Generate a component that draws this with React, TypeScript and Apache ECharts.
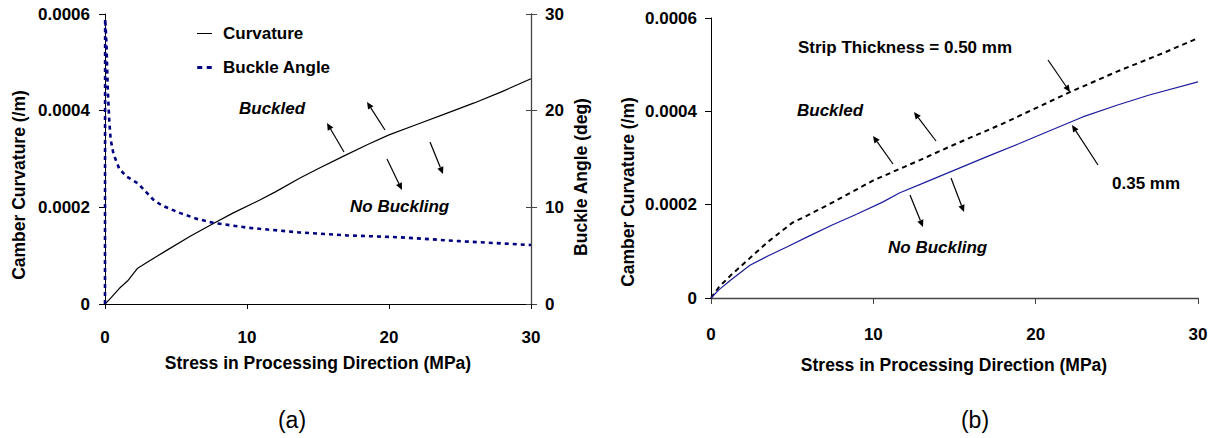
import React, { useEffect, useRef } from "react";
import * as echarts from "echarts";

// ---------- data ----------
// (a) curvature vs stress
const curvStress = [0, 0.4, 1, 1.6, 2.3, 3, 4.4, 6, 7.6, 9, 10.9, 12, 13.7, 15, 16.8, 18.5, 20, 22, 24, 26, 28, 30];
const curvValues = [0, 0.000012, 0.000032, 0.000048, 0.000074, 0.000087, 0.000112, 0.00014, 0.000166, 0.000188, 0.000215, 0.000232, 0.00026, 0.00028, 0.000306, 0.00033, 0.00035, 0.000372, 0.000394, 0.000416, 0.00044, 0.000466];
// (a) buckle angle vs stress
const angleStress = [0, 0.01, 0.05, 0.1, 0.2, 0.3, 0.4, 0.6, 1, 1.5, 2.3, 2.5, 3.4, 4, 5.3, 6.5, 7.6, 10, 13.7, 17, 20.8, 25, 30];
const angleValues = [0, 29.5, 28.5, 27, 22, 19, 17, 15.5, 14, 13.2, 12.5, 12.2, 10.8, 10.2, 9.4, 8.8, 8.4, 7.9, 7.4, 7.1, 6.9, 6.5, 6.1];
// (b) 0.50 mm strip
const thickStress = [0, 0.5, 1.2, 2.4, 3.5, 5, 6, 7.5, 10, 12.9, 15, 18, 22.1, 25, 28, 30];
const thickValues = [0, 0.000024, 0.000048, 0.0000857, 0.00012, 0.000161, 0.000178, 0.000205, 0.000252, 0.000296, 0.000329, 0.000374, 0.000441, 0.000485, 0.000527, 0.000557];
// (b) 0.35 mm strip
const thinStress = [0, 0.5, 1.2, 2.4, 3.5, 4.7, 6, 7.5, 9, 10.6, 11.6, 13, 15, 17, 19, 20.5, 22.9, 25, 27, 30];
const thinValues = [0, 0.000018, 0.000038, 0.00007, 0.00009, 0.00011, 0.000132, 0.000157, 0.00018, 0.000206, 0.000225, 0.000245, 0.000274, 0.000303, 0.000331, 0.000353, 0.000388, 0.000413, 0.000435, 0.000463];

const xTicks = { min: 0, max: 30, interval: 10 };
const curvTicks = { min: 0, max: 0.0006, interval: 0.0002 };
const angleTicks = { min: 0, max: 30, interval: 10 };

const FONT = "'Liberation Sans', Arial, sans-serif";

function zip(xs: number[], ys: number[]) {
  return xs.map((x, i) => [x, ys[i]]);
}

function arrow(x1: number, y1: number, x2: number, y2: number) {
  const dx = x2 - x1;
  const dy = y2 - y1;
  const len = Math.sqrt(dx * dx + dy * dy);
  const ux = dx / len;
  const uy = dy / len;
  const hl = 7;
  const hw = 3.2;
  const bx = x2 - ux * hl;
  const by = y2 - uy * hl;
  const nx = -uy;
  const ny = ux;
  return [
    { type: "line", shape: { x1, y1, x2: bx, y2: by }, style: { stroke: "#000", lineWidth: 1.2 } },
    {
      type: "polygon",
      shape: { points: [[x2, y2], [bx + nx * hw, by + ny * hw], [bx - nx * hw, by - ny * hw]] },
      style: { fill: "#000" },
    },
  ];
}

function label(text: string, x: number, y: number, opts: any = {}) {
  return {
    type: "text",
    x,
    y,
    rotation: opts.rotation || 0,
    style: {
      text,
      fill: "#000",
      font: `${opts.italic ? "italic " : ""}${opts.weight || "bold"} ${opts.size || 17}px ${FONT}`,
      align: opts.align || "left",
      verticalAlign: "middle",
    },
  };
}

const SOLID_ICON = "path://M0,0h0.01v0.01h-0.01z M0,6.4h15v1.2h-15z M0,14h0.01v0.01h-0.01z";
const DASH_ICON = "path://M0,0h0.01v0.01h-0.01z M0,5.5h5v3h-5z M9.5,5.5h5v3h-5z M0,14h0.01v0.01h-0.01z";

export default function App() {
  const ref = useRef<HTMLDivElement>(null);
  useEffect(() => {
    if (!ref.current) return;
    const chart = echarts.init(ref.current, undefined, { renderer: "svg" });
    const axisLabelStyle = { color: "#000", fontSize: 17, fontWeight: "bold" as const, fontFamily: FONT };
    const yFmt = (v: number) => (v === 0 ? "0" : v.toFixed(4));

    const graphics: any[] = [
      label("Buckled", 239, 108, { italic: true }),
      label("No Buckling", 350, 206, { italic: true }),
      label("Strip Thickness = 0.50 mm", 798, 47),
      label("Buckled", 797, 110, { italic: true }),
      label("No Buckling", 888, 247, { italic: true }),
      label("0.35 mm", 1112, 183),
      label("(a)", 292, 420, { align: "center", weight: "normal", size: 23 }),
      label("(b)", 975, 420, { align: "center", weight: "normal", size: 23 }),
      label("Stress in Processing Direction (MPa)", 318, 363, { align: "center", size: 17.5 }),
      label("Stress in Processing Direction (MPa)", 954, 365, { align: "center", size: 17.5 }),
      label("Camber Curvature (/m)", 19, 185, { align: "center", size: 17.5, rotation: Math.PI / 2 }),
      label("Camber Curvature (/m)", 628, 192, { align: "center", size: 17.5, rotation: Math.PI / 2 }),
      label("Buckle Angle (deg)", 581, 177, { align: "center", size: 17.5, rotation: Math.PI / 2 }),
      ...arrow(344, 152, 327, 123),
      ...arrow(385, 130, 367, 102),
      ...arrow(387, 159, 402, 190),
      ...arrow(430, 142, 443, 174),
      ...arrow(893, 164, 873, 136),
      ...arrow(936, 141, 914, 112),
      ...arrow(910, 195, 923, 227),
      ...arrow(951, 178, 964, 212),
      ...arrow(1048, 60, 1070, 92),
      ...arrow(1098, 165, 1072, 125),
    ];

    chart.setOption({
      animation: false,
      backgroundColor: "#fff",
      textStyle: { fontFamily: FONT },
      grid: [
        { left: 105, top: 14, width: 426, height: 290 },
        { left: 711, top: 18, width: 487, height: 280 },
      ],
      legend: {
        data: [
          { name: "Curvature", icon: SOLID_ICON },
          { name: "Buckle Angle", icon: DASH_ICON },
        ],
        orient: "vertical",
        left: 192,
        top: 20,
        itemWidth: 15,
        itemHeight: 14,
        itemGap: 17,
        itemStyle: { borderWidth: 0 },
        textStyle: { color: "#000", fontSize: 17, fontWeight: "bold", fontFamily: FONT, padding: [0, 0, 0, 6] },
      },
      xAxis: [
        {
          type: "value",
          gridIndex: 0,
          ...xTicks,
          axisLine: { lineStyle: { color: "#000", width: 1 } },
          axisTick: { show: true, length: 5, lineStyle: { color: "#000" } },
          splitLine: { show: false },
          axisLabel: { ...axisLabelStyle, margin: 25 },
        },
        {
          type: "value",
          gridIndex: 1,
          ...xTicks,
          axisLine: { lineStyle: { color: "#444", width: 1.3 } },
          axisTick: { show: true, length: 6, lineStyle: { color: "#444" } },
          splitLine: { show: false },
          axisLabel: { ...axisLabelStyle, margin: 28 },
        },
      ],
      yAxis: [
        {
          type: "value",
          gridIndex: 0,
          position: "left",
          ...curvTicks,
          axisLine: { show: true, lineStyle: { color: "#000", width: 1 } },
          axisTick: { show: true, length: 6, lineStyle: { color: "#000" } },
          splitLine: { show: false },
          axisLabel: { ...axisLabelStyle, margin: 15, formatter: yFmt },
        },
        {
          type: "value",
          gridIndex: 0,
          position: "right",
          ...angleTicks,
          axisLine: { show: true, lineStyle: { color: "#444", width: 1.3 } },
          axisTick: { show: true, length: 6, lineStyle: { color: "#444" } },
          splitLine: { show: false },
          axisLabel: { ...axisLabelStyle, margin: 14 },
        },
        {
          type: "value",
          gridIndex: 1,
          position: "left",
          ...curvTicks,
          axisLine: { show: true, lineStyle: { color: "#000", width: 1 } },
          axisTick: { show: true, length: 6, lineStyle: { color: "#000" } },
          splitLine: { show: false },
          axisLabel: { ...axisLabelStyle, margin: 14, formatter: yFmt },
        },
        {
          type: "value",
          gridIndex: 0,
          position: "right",
          ...angleTicks,
          axisLine: { show: false },
          axisTick: { show: true, inside: true, length: 5, lineStyle: { color: "#444" } },
          splitLine: { show: false },
          axisLabel: { show: false },
        },
      ],
      series: [
        {
          name: "Curvature",
          type: "line",
          xAxisIndex: 0,
          yAxisIndex: 0,
          data: zip(curvStress, curvValues),
          symbol: "none",
          lineStyle: { color: "#000", width: 1.2 },
          itemStyle: { color: "#000" },
        },
        {
          name: "Buckle Angle",
          type: "line",
          xAxisIndex: 0,
          yAxisIndex: 1,
          data: zip(angleStress, angleValues),
          symbol: "none",
          lineStyle: { color: "#000080", width: 2.6, type: [4, 4] },
          itemStyle: { color: "#000080" },
        },
        {
          name: "0.50 mm",
          type: "line",
          xAxisIndex: 1,
          yAxisIndex: 2,
          data: zip(thickStress, thickValues),
          symbol: "none",
          lineStyle: { color: "#000", width: 2, type: [5, 4] },
        },
        {
          name: "0.35 mm",
          type: "line",
          xAxisIndex: 1,
          yAxisIndex: 2,
          data: zip(thinStress, thinValues),
          symbol: "none",
          lineStyle: { color: "#1c1c9c", width: 1.2 },
        },
      ],
      graphic: graphics,
    });
    return () => chart.dispose();
  }, []);
  return <div ref={ref} style={{ position: "absolute", left: 0, top: 0, width: 1220, height: 438 }} />;
}
